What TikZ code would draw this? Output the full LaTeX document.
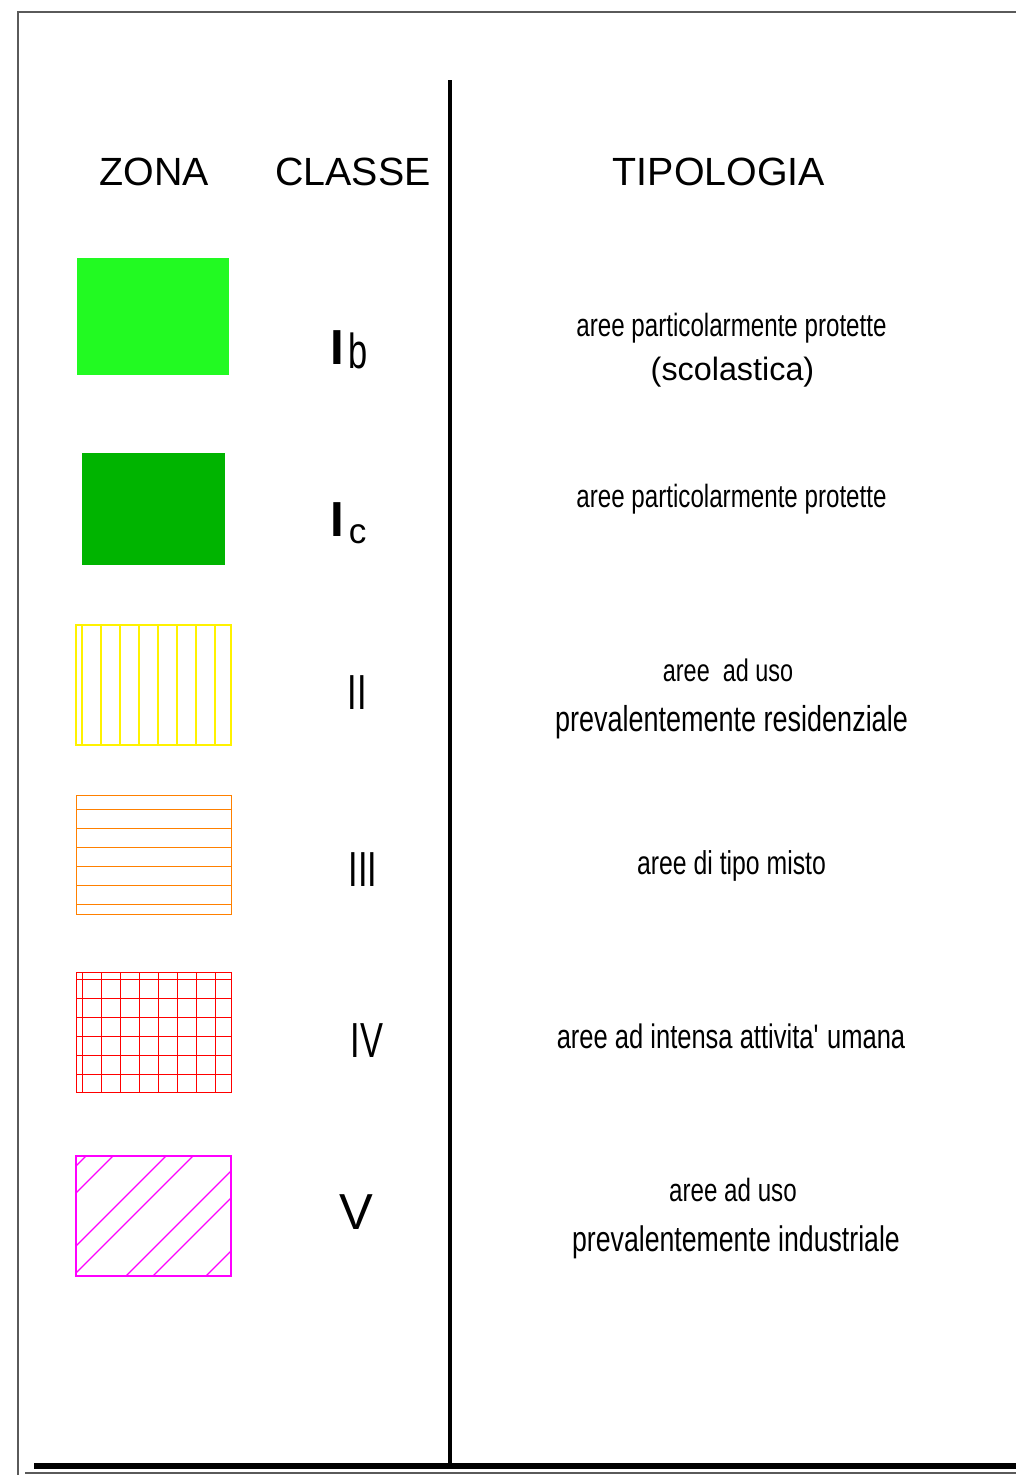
\documentclass[tikz,border=0pt]{standalone}
\usepackage{fontspec}
\setmainfont{Liberation Sans}
\newfontfamily\estrecha[FakeStretch=0.75]{Liberation Sans}
\newfontfamily\clase[FakeStretch=0.7]{Liberation Sans}
\usetikzlibrary{calc}

\definecolor{verdechiaro}{RGB}{34,250,34}
\definecolor{verdescuro}{RGB}{0,180,0}
\definecolor{arancio}{RGB}{255,128,0}
\definecolor{fucsia}{RGB}{255,0,255}
\definecolor{bordo}{RGB}{90,90,90}

\begin{document}
\begin{tikzpicture}[x=0.025cm, y=-0.025cm,
  titolo/.style={font=\fontsize{28}{32}\selectfont, anchor=base, inner sep=0pt},
  classe/.style={font=\clase\fontsize{35}{40}\selectfont, anchor=base, inner sep=0pt},
  tipo/.style={font=\estrecha\fontsize{#1}{#1}\selectfont, anchor=base, inner sep=0pt},
  tipo/.default=23]
  \useasboundingbox (0,0) rectangle (1016,1475);

  % Marco
  \draw[bordo, line width=1pt] (1030,12) -- (18,12) -- (18,1490);
  \draw[bordo, line width=1pt] (25,1473) -- (1030,1473);
  \draw[line width=3.6pt] (34,1466) -- (1030,1466);
  \draw[line width=2.9pt] (450,80) -- (450,1466);

  % Encabezados
  \node[titolo] (zona) at (154,185) {ZONA};
  \node[titolo] (classe) at (353,185) {CLASSE};
  \node[titolo] (tipologia) at (719,185) {TIPOLOGIA};

  % Muestras de zona
  \fill[verdechiaro] (77,258) rectangle (229,375);
  \fill[verdescuro] (82,453) rectangle (225,565);
  % II: lineas verticales
  \draw[yellow, line width=1.2pt] (76,625) rectangle (231,745);
  \foreach \x in {82,101,...,215}
    \draw[yellow, line width=1.2pt] (\x,625) -- (\x,745);
  % III: lineas horizontales
  \draw[arancio, line width=0.7pt] (76,795) rectangle (231,914);
  \foreach \y in {809,828,...,904}
    \draw[arancio, line width=0.7pt] (76,\y) -- (231,\y);
  % IV: reticula
  \draw[red, line width=0.7pt] (76,972) rectangle (231,1092);
  \foreach \x in {82,101,...,215}
    \draw[red, line width=0.7pt] (\x,972) -- (\x,1092);
  \foreach \y in {979,998,...,1074}
    \draw[red, line width=0.7pt] (76,\y) -- (231,\y);
  % V: diagonales
  \draw[fucsia, line width=0.8pt] (76,1156) rectangle (231,1276);
  \begin{scope}
    \clip (76,1156) rectangle (231,1276);
    \foreach \s in {1242,1269,1322,1349,1402,1429,1482}
      \draw[fucsia, line width=0.8pt] (\s-1300,1300) -- (\s-1100,1100);
  \end{scope}

  % Clases
  \node[classe, anchor=base west] (Ib) at (330,364)
    {{\rmfamily\bfseries I}\hspace{3pt}\raisebox{-3pt}{b}};
  \node[classe, anchor=base west] (Ic) at (330,536)
    {{\rmfamily\bfseries I}\hspace{3.5pt}\raisebox{-5pt}{\rmfamily\fontsize{25}{30}\selectfont c}};
  \node[classe] (II) at (357,709) {II};
  \node[classe] (III) at (363,886) {III};
  \node[classe] (IV) at (367,1057) {IV};
  \node[classe, font=\fontsize{36}{40}\selectfont] (V) at (356.5,1229) {V};

  % Tipologias
  \node[tipo=22.9] (t1a) at (731.5,336) {aree particolarmente protette};
  \node[tipo, font=\fontsize{23}{28}\selectfont] (t1b) at (732.5,380) {(scolastica)};
  \node[tipo=22.9] (t2) at (731.5,507) {aree particolarmente protette};
  \node[tipo=22.2] (t3a) at (728,681) {aree\ \ ad uso};
  \node[tipo=25.6] (t3b) at (731.5,731) {prevalentemente residenziale};
  \node[tipo=23.5] (t4) at (731.5,874) {aree di tipo misto};
  \node[tipo=24.2] (t5) at (731,1048) {aree ad intensa attivita\textquotesingle{} umana};
  \node[tipo=22.9] (t6a) at (733,1201) {aree ad uso};
  \node[tipo=25.3] (t6b) at (736,1251) {prevalentemente industriale};
\end{tikzpicture}
\end{document}
